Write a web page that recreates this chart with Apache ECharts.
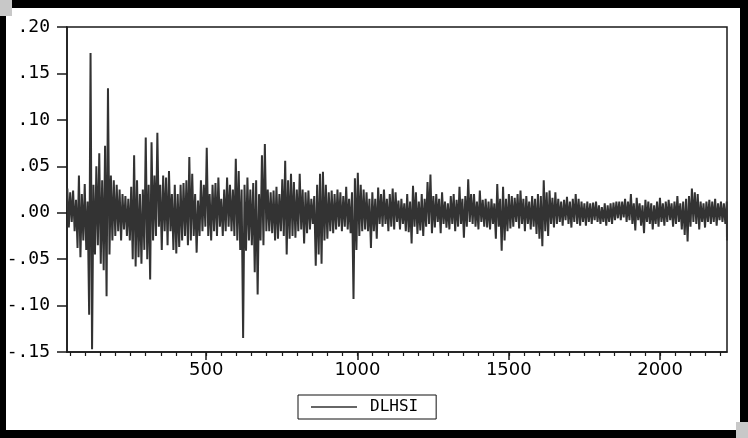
<!DOCTYPE html>
<html>
<head>
<meta charset="utf-8">
<script src="https://cdn.jsdelivr.net/npm/echarts@6/dist/echarts.min.js"></script>
<style>
  html, body { margin: 0; padding: 0; background: #000; }
  #wrap { position: relative; width: 748px; height: 438px; background: #000; }
  #paper { position: absolute; left: 6px; top: 8px; width: 734px; height: 422px; background: #fff; }
  .corner { position: absolute; width: 12px; height: 16px; background: #c8c8c8; }
  #chart { position: absolute; left: 0; top: 0; width: 748px; height: 438px; }
</style>
</head>
<body>
<div id="wrap">
  <div id="paper"></div>
  <div class="corner" style="left:0;top:0"></div>
  <div class="corner" style="right:0;bottom:0"></div>
  <div id="chart"></div>
</div>
<script>
// DLHSI: highest and lowest value in each block of ~9.6 obs (x 1/1000)
const firstObs = 40
const lastObs = 2221
const binSize = 9.6
const hiVals = [
  26, 22, 24, 14, 40, 20, 31, 12, 172, 30, 50, 64, 35, 72, 134, 40, 35, 30, 25, 20,
  18, 15, 28, 62, 35, 20, 25, 81, 30, 76, 40, 86, 30, 40, 38, 45, 20, 30,
  20, 30, 32, 35, 60, 42, 20, 13, 35, 30, 70, 20, 30, 32, 38, 15, 25, 38, 30, 25,
  58, 45, 25, 30, 38, 25, 32, 35, 20, 62, 74, 25, 22, 24, 28, 20, 36, 56,
  35, 42, 33, 25, 42, 25, 22, 24, 15, 18, 30, 42, 44, 30, 22, 24, 20, 25, 22, 18,
  28, 15, 22, 37, 43, 30, 25, 22, 15, 22, 15, 27, 20, 25, 15, 20, 26, 22,
  13, 15, 10, 20, 12, 29, 22, 12, 20, 15, 33, 41, 18, 20, 15, 22, 12, 10, 18, 20,
  14, 28, 15, 18, 36, 20, 20, 12, 24, 14, 15, 12, 15, 10, 31, 15, 28, 15,
  20, 18, 16, 20, 24, 15, 18, 12, 18, 15, 20, 18, 35, 22, 24, 16, 22, 15, 12, 14,
  17, 12, 15, 20, 15, 12, 10, 12, 10, 11, 12, 8, 6, 10, 8, 10, 11,
  12, 12, 12, 15, 12, 20, 10, 16, 10, 8, 14, 12, 10, 8, 12, 16, 10, 12, 14, 10,
  12, 18, 10, 12, 15, 18, 26, 22, 20, 12, 10, 12, 14, 12, 15, 10, 12, 10, 12
]
const loVals = [
  -16, -10, -20, -38, -48, -30, -40, -110, -147, -45, -35, -55, -62, -90, -45, -30, -25, -20, -30, -18,
  -25, -30, -50, -58, -48, -55, -40, -50, -72, -30, -25, -15, -40, -20, -35, -20, -40, -44,
  -37, -30, -25, -35, -30, -25, -43, -25, -20, -15, -25, -30, -20, -25, -15, -25, -20, -15, -20, -25,
  -30, -40, -135, -41, -30, -35, -64, -88, -30, -35, -20, -20, -22, -30, -28, -20, -25, -45,
  -28, -25, -27, -20, -18, -33, -22, -18, -12, -57, -45, -55, -30, -28, -20, -22, -18, -15, -20, -15,
  -18, -22, -93, -40, -25, -20, -18, -20, -38, -20, -28, -12, -15, -12, -20, -15, -18, -10,
  -18, -12, -20, -21, -33, -15, -23, -19, -25, -15, -12, -22, -16, -10, -22, -12, -16, -18, -12, -20,
  -15, -12, -27, -15, -10, -12, -15, -18, -10, -15, -16, -18, -12, -28, -15, -41, -30, -20,
  -17, -15, -10, -17, -12, -20, -12, -18, -15, -23, -28, -36, -20, -25, -12, -16, -12, -10, -14, -8,
  -12, -16, -10, -12, -14, -10, -14, -10, -12, -8, -10, -12, -10, -14, -10, -12, -8,
  -6, -8, -5, -10, -8, -12, -19, -8, -14, -22, -10, -12, -18, -12, -15, -10, -14, -10, -8, -15,
  -12, -10, -18, -24, -31, -15, -10, -12, -18, -10, -16, -10, -12, -10, -14, -8, -10, -12, -30
]
const seriesName = 'DLHSI'
const xLabelTicks = [500, 1000, 1500, 2000]
const xMinorStep = 50
const yMin = -0.15
const yMax = 0.2
const yStep = 0.05

const sansFont = '"DejaVu Sans", Verdana, sans-serif'
const monoFont = '"DejaVu Sans Mono", monospace'
const ink = '#1a1a1a'

// small ticks every 50 obs inside the plotted range
const xMinorTicks = []
for (let v = Math.ceil(firstObs / xMinorStep) * xMinorStep; v <= lastObs; v += xMinorStep) xMinorTicks.push(v)

// put the two values of each block one after the other so the line sweeps up and down
const lineData = []
hiVals.forEach((hi, i) => {
  const start = firstObs + i * binSize
  lineData.push([start + 1, hi / 1000])
  lineData.push([Math.min(start + 6, lastObs), loVals[i] / 1000])
})

function yLabel(v) {
  if (Math.abs(v) < 1e-9) return '.00'
  return v.toFixed(2).replace('0.', '.')
}

const chart = echarts.init(document.getElementById('chart'))

const option = {
  animation: false,
  grid: {
    left: 67,
    right: 21,
    top: 27,
    bottom: 86,
    show: true,
    borderColor: ink,
    borderWidth: 1.5,
    backgroundColor: 'transparent'
  },
  legend: {
    data: [seriesName],
    left: 298,
    top: 395,
    padding: [4, 18, 4, 13],
    borderColor: '#111',
    borderWidth: 1,
    icon: 'rect',
    itemWidth: 46,
    itemHeight: 1.5,
    itemStyle: { color: '#333' },
    textStyle: {
      color: '#000',
      fontSize: 16,
      fontFamily: monoFont,
      padding: [0, 0, 0, 8]
    }
  },
  xAxis: [{
    type: 'value',
    min: firstObs,
    max: lastObs,
    position: 'bottom',
    axisLine: { show: true, onZero: false, lineStyle: { color: ink, width: 1.5 } },
    axisTick: {
      show: true,
      inside: false,
      length: 8,
      customValues: xLabelTicks,
      lineStyle: { color: ink, width: 1.5 }
    },
    axisLabel: {
      color: '#000',
      fontSize: 18,
      fontFamily: sansFont,
      margin: 9,
      customValues: xLabelTicks,
      formatter: v => String(v)
    },
    splitLine: { show: false }
  }, {
    type: 'value',
    min: firstObs,
    max: lastObs,
    position: 'bottom',
    axisLine: { show: false, onZero: false },
    axisTick: {
      show: true,
      inside: false,
      length: 4,
      customValues: xMinorTicks,
      lineStyle: { color: ink, width: 1.2 }
    },
    axisLabel: { show: false },
    splitLine: { show: false }
  }],
  yAxis: {
    type: 'value',
    min: yMin,
    max: yMax,
    interval: yStep,
    axisLine: { show: true, onZero: false, lineStyle: { color: ink, width: 1.5 } },
    axisTick: {
      show: true,
      inside: false,
      length: 10,
      lineStyle: { color: ink, width: 1.5 }
    },
    axisLabel: {
      color: '#000',
      fontSize: 18,
      fontFamily: monoFont,
      margin: 17,
      formatter: yLabel
    },
    splitLine: { show: false }
  },
  series: [{
    name: seriesName,
    type: 'line',
    xAxisIndex: 0,
    data: lineData,
    symbol: 'none',
    showSymbol: false,
    sampling: false,
    clip: true,
    lineStyle: {
      color: '#333',
      width: 2
    },
    itemStyle: {
      color: '#333'
    }
  }]
}

chart.setOption(option)
</script>
</body>
</html>
